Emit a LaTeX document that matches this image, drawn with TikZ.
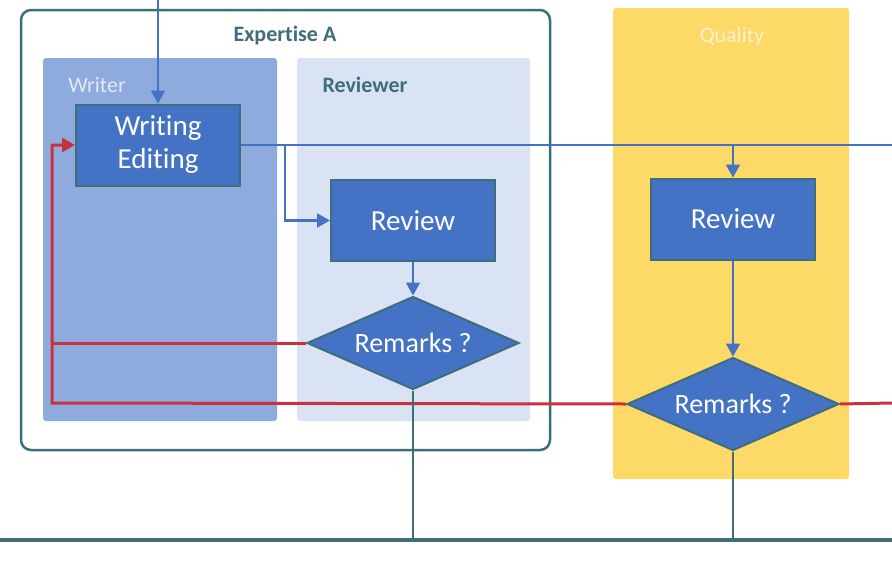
\documentclass[tikz,border=0pt]{standalone}
\usepackage{fontspec}
\setmainfont{Carlito}[Ligatures=NoCommon]
\usetikzlibrary{shapes.geometric,arrows.meta,backgrounds}
\definecolor{cblue}{HTML}{4472C4}
\definecolor{cteal}{HTML}{3E6E7C}
\definecolor{cred}{HTML}{C8323C}
\definecolor{cwriter}{HTML}{8FAADC}
\definecolor{creviewer}{HTML}{DAE3F3}
\definecolor{cquality}{HTML}{FDD968}
\definecolor{cwriterlbl}{HTML}{E4EAF5}
\definecolor{cqualitylbl}{HTML}{FAF1D2}
\tikzset{
  procbox/.style={rectangle, draw=cteal, line width=2pt, fill=cblue, text=white,
    minimum width=164pt, minimum height=81pt, inner sep=0pt, align=center,
    font=\fontsize{29}{33}\selectfont},
  decision/.style={diamond, draw=cteal, line width=2pt, fill=cblue, text=white,
    aspect=2.3, inner sep=0pt, minimum width=212pt, minimum height=93pt,
    font=\fontsize{28}{32}\selectfont},
  lane/.style={rounded corners=3pt},
  lanelabel/.style={font=\fontsize{22}{24}\selectfont},
  flowline/.style={draw=cblue, line width=2.2pt},
  flowarrow/.style={flowline, -{Triangle[length=13pt,width=14pt]}},
  redline/.style={draw=cred, line width=3pt},
  redarrow/.style={redline, -{Triangle[length=13pt,width=14pt]}},
  exitline/.style={draw=cteal, line width=2.2pt},
  exitbase/.style={draw=cteal, line width=3.5pt}
}
\begin{document}
\begin{tikzpicture}[x=1pt,y=-1pt]
\useasboundingbox (0,0) rectangle (892,565);
% nodes
\node[procbox] (we) at (158,145) {Writing\\Editing};
\node[procbox] (rev1) at (413,220.5) {Review};
\node[procbox] (rev2) at (733,219) {Review};
\node[decision] (dia1) at (413,343) {Remarks ?};
\node[decision] (dia2) at (733,404) {Remarks ?};
% lanes
\begin{scope}[on background layer]
  \fill[white] (0,0) rectangle (892,565);
  \fill[cquality, lane] (613,8) rectangle (849,479);
  \fill[cwriter, lane] (43,58) rectangle (277,421);
  \fill[creviewer, lane] (297,58) rectangle (530,421);
  \draw[cteal, line width=2.5pt, rounded corners=10pt] (21,10) rectangle (550,450);
\end{scope}
\node[lanelabel, text=cteal, font=\fontsize{22}{24}\selectfont\bfseries] (lblexp) at (285,36) {Expertise A};
\node[lanelabel, text=cwriterlbl] (lblwriter) at (97,85) {Writer};
\node[lanelabel, text=cteal, font=\fontsize{22}{24}\selectfont\bfseries] (lblrev) at (365,85) {Reviewer};
\node[lanelabel, text=cqualitylbl] (lblqual) at (732,37) {Quality};
% coordinates
\coordinate (topin) at (158,0);
\coordinate (rightout) at (892,145);
\coordinate (br1) at (285,145);
\coordinate (br2) at (733,145);
\coordinate (rc) at (52,403);
\coordinate (redright) at (892,403);
\coordinate (bl) at (0,540);
\coordinate (br) at (892,540);
% connectors
\draw[flowarrow] (topin) -- (we.north);
\draw[flowline] (we.east |- rightout) -- (rightout);
\draw[flowarrow] (br1) |- (rev1.west);
\draw[flowarrow] (br2) -- (rev2.north);
\draw[flowarrow] (rev1.south) -- (dia1.north);
\draw[flowarrow] (rev2.south) -- (dia2.north);
\draw[redline] (dia1.west) -- (dia1.west -| rc);
\draw[redarrow] (dia2.west) -- (rc) |- (we.west);
\draw[redline] (redright) -- (dia2.east);
\draw[exitbase] (bl) -- (br);
\draw[exitline] (dia1.south) -- (dia1.south |- bl);
\draw[exitline] (dia2.south) -- (dia2.south |- bl);
\end{tikzpicture}
\end{document}
